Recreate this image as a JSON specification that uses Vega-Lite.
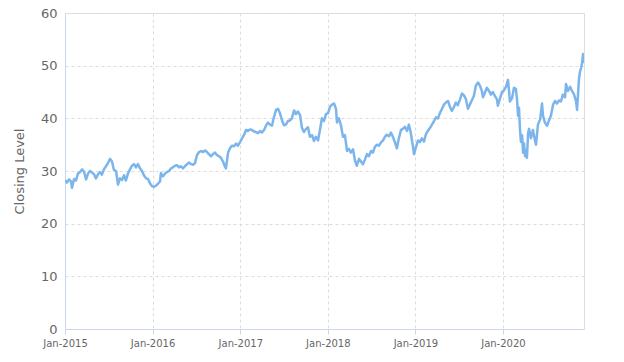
{
  "$schema": "https://vega.github.io/schema/vega-lite/v6.json",
  "width": 519,
  "height": 316,
  "autosize": {"type": "none"},
  "padding": {"left": 65, "top": 13, "right": 40, "bottom": 33},
  "background": "white",
  "config": {
    "view": {"stroke": "#d8dde6", "strokeWidth": 1},
    "font": "DejaVu Sans"
  },
  "data": {
    "values": [
      {"date": "2015-01-01", "close": 28.3}, {"date": "2015-01-09", "close": 27.8}, {"date": "2015-01-18", "close": 28.4}, {"date": "2015-01-26", "close": 28.0}, {"date": "2015-01-30", "close": 26.8},
      {"date": "2015-02-08", "close": 28.5}, {"date": "2015-02-16", "close": 28.2}, {"date": "2015-02-24", "close": 29.5}, {"date": "2015-03-05", "close": 29.8}, {"date": "2015-03-13", "close": 30.3},
      {"date": "2015-03-21", "close": 29.9}, {"date": "2015-03-30", "close": 28.4}, {"date": "2015-04-07", "close": 29.5}, {"date": "2015-04-15", "close": 30.0}, {"date": "2015-04-24", "close": 29.7},
      {"date": "2015-05-02", "close": 29.4}, {"date": "2015-05-10", "close": 28.6}, {"date": "2015-05-19", "close": 29.4}, {"date": "2015-05-27", "close": 29.8}, {"date": "2015-06-04", "close": 29.3},
      {"date": "2015-06-13", "close": 30.4}, {"date": "2015-06-21", "close": 30.9}, {"date": "2015-06-29", "close": 31.5}, {"date": "2015-07-08", "close": 32.3}, {"date": "2015-07-16", "close": 31.8},
      {"date": "2015-07-24", "close": 30.2}, {"date": "2015-08-02", "close": 30.0}, {"date": "2015-08-10", "close": 27.4}, {"date": "2015-08-18", "close": 28.6}, {"date": "2015-08-27", "close": 28.3},
      {"date": "2015-09-04", "close": 29.2}, {"date": "2015-09-12", "close": 28.2}, {"date": "2015-09-21", "close": 29.6}, {"date": "2015-09-29", "close": 30.3}, {"date": "2015-10-07", "close": 31.0},
      {"date": "2015-10-16", "close": 31.3}, {"date": "2015-10-24", "close": 30.7}, {"date": "2015-11-01", "close": 31.3}, {"date": "2015-11-10", "close": 30.5}, {"date": "2015-11-18", "close": 30.0},
      {"date": "2015-11-26", "close": 29.2}, {"date": "2015-12-05", "close": 28.6}, {"date": "2015-12-13", "close": 28.5}, {"date": "2015-12-21", "close": 27.7}, {"date": "2015-12-30", "close": 27.1},
      {"date": "2016-01-07", "close": 27.0}, {"date": "2016-01-15", "close": 27.2}, {"date": "2016-01-24", "close": 27.6}, {"date": "2016-02-01", "close": 28.0}, {"date": "2016-02-05", "close": 29.6},
      {"date": "2016-02-14", "close": 29.0}, {"date": "2016-02-22", "close": 29.5}, {"date": "2016-03-01", "close": 29.8}, {"date": "2016-03-10", "close": 30.0}, {"date": "2016-03-18", "close": 30.5},
      {"date": "2016-03-26", "close": 30.7}, {"date": "2016-04-04", "close": 31.0}, {"date": "2016-04-12", "close": 31.1}, {"date": "2016-04-20", "close": 30.7}, {"date": "2016-04-29", "close": 30.9},
      {"date": "2016-05-07", "close": 30.5}, {"date": "2016-05-15", "close": 30.9}, {"date": "2016-05-24", "close": 31.3}, {"date": "2016-06-01", "close": 31.6}, {"date": "2016-06-09", "close": 31.3},
      {"date": "2016-06-18", "close": 31.2}, {"date": "2016-06-26", "close": 31.5}, {"date": "2016-07-04", "close": 33.0}, {"date": "2016-07-13", "close": 33.6}, {"date": "2016-07-21", "close": 33.8},
      {"date": "2016-07-29", "close": 33.6}, {"date": "2016-08-07", "close": 33.9}, {"date": "2016-08-15", "close": 33.6}, {"date": "2016-08-23", "close": 33.2}, {"date": "2016-09-01", "close": 32.8},
      {"date": "2016-09-09", "close": 33.2}, {"date": "2016-09-17", "close": 33.5}, {"date": "2016-09-26", "close": 33.0}, {"date": "2016-10-04", "close": 32.8}, {"date": "2016-10-12", "close": 32.5},
      {"date": "2016-10-21", "close": 31.8}, {"date": "2016-10-29", "close": 30.8}, {"date": "2016-11-02", "close": 30.5}, {"date": "2016-11-11", "close": 33.5}, {"date": "2016-11-19", "close": 34.3},
      {"date": "2016-11-27", "close": 34.8}, {"date": "2016-12-06", "close": 34.7}, {"date": "2016-12-14", "close": 35.2}, {"date": "2016-12-22", "close": 34.8}, {"date": "2016-12-31", "close": 35.5},
      {"date": "2017-01-08", "close": 36.2}, {"date": "2017-01-16", "close": 36.8}, {"date": "2017-01-25", "close": 37.8}, {"date": "2017-02-02", "close": 37.6}, {"date": "2017-02-10", "close": 37.9},
      {"date": "2017-02-19", "close": 37.8}, {"date": "2017-02-27", "close": 37.5}, {"date": "2017-03-07", "close": 37.4}, {"date": "2017-03-16", "close": 37.2}, {"date": "2017-03-24", "close": 37.6},
      {"date": "2017-04-01", "close": 37.3}, {"date": "2017-04-10", "close": 37.8}, {"date": "2017-04-18", "close": 38.6}, {"date": "2017-04-26", "close": 39.2}, {"date": "2017-05-05", "close": 38.8},
      {"date": "2017-05-13", "close": 38.6}, {"date": "2017-05-21", "close": 40.2}, {"date": "2017-05-30", "close": 41.6}, {"date": "2017-06-07", "close": 41.8}, {"date": "2017-06-15", "close": 41.0},
      {"date": "2017-06-24", "close": 39.6}, {"date": "2017-07-02", "close": 38.7}, {"date": "2017-07-10", "close": 38.8}, {"date": "2017-07-19", "close": 39.5}, {"date": "2017-07-27", "close": 39.6},
      {"date": "2017-08-04", "close": 40.0}, {"date": "2017-08-13", "close": 41.5}, {"date": "2017-08-21", "close": 40.8}, {"date": "2017-08-29", "close": 41.3}, {"date": "2017-09-07", "close": 40.6},
      {"date": "2017-09-15", "close": 38.2}, {"date": "2017-09-23", "close": 37.4}, {"date": "2017-10-02", "close": 38.0}, {"date": "2017-10-10", "close": 38.3}, {"date": "2017-10-18", "close": 36.5},
      {"date": "2017-10-27", "close": 36.8}, {"date": "2017-11-04", "close": 35.7}, {"date": "2017-11-12", "close": 36.5}, {"date": "2017-11-21", "close": 35.8}, {"date": "2017-11-29", "close": 37.8},
      {"date": "2017-12-07", "close": 40.0}, {"date": "2017-12-16", "close": 39.5}, {"date": "2017-12-24", "close": 40.8}, {"date": "2018-01-02", "close": 41.0}, {"date": "2018-01-10", "close": 42.2},
      {"date": "2018-01-18", "close": 42.6}, {"date": "2018-01-27", "close": 42.8}, {"date": "2018-02-04", "close": 41.8}, {"date": "2018-02-08", "close": 39.2}, {"date": "2018-02-16", "close": 40.0},
      {"date": "2018-02-25", "close": 38.6}, {"date": "2018-03-05", "close": 36.5}, {"date": "2018-03-13", "close": 36.8}, {"date": "2018-03-22", "close": 33.8}, {"date": "2018-03-30", "close": 34.2},
      {"date": "2018-04-07", "close": 33.5}, {"date": "2018-04-16", "close": 34.1}, {"date": "2018-04-24", "close": 32.0}, {"date": "2018-05-02", "close": 31.0}, {"date": "2018-05-11", "close": 32.3},
      {"date": "2018-05-19", "close": 31.8}, {"date": "2018-05-27", "close": 31.3}, {"date": "2018-06-05", "close": 32.2}, {"date": "2018-06-13", "close": 33.2}, {"date": "2018-06-21", "close": 32.8},
      {"date": "2018-06-30", "close": 33.8}, {"date": "2018-07-08", "close": 33.5}, {"date": "2018-07-16", "close": 34.6}, {"date": "2018-07-25", "close": 35.0}, {"date": "2018-08-02", "close": 34.8},
      {"date": "2018-08-10", "close": 35.4}, {"date": "2018-08-19", "close": 35.8}, {"date": "2018-08-27", "close": 36.5}, {"date": "2018-09-04", "close": 36.9}, {"date": "2018-09-13", "close": 36.6},
      {"date": "2018-09-21", "close": 37.3}, {"date": "2018-09-29", "close": 36.5}, {"date": "2018-10-08", "close": 35.4}, {"date": "2018-10-16", "close": 34.3}, {"date": "2018-10-24", "close": 36.2},
      {"date": "2018-11-02", "close": 37.8}, {"date": "2018-11-10", "close": 38.0}, {"date": "2018-11-18", "close": 38.4}, {"date": "2018-11-27", "close": 37.6}, {"date": "2018-12-05", "close": 38.8},
      {"date": "2018-12-13", "close": 37.2}, {"date": "2018-12-22", "close": 34.6}, {"date": "2018-12-26", "close": 33.2}, {"date": "2019-01-03", "close": 34.5}, {"date": "2019-01-12", "close": 35.8},
      {"date": "2019-01-20", "close": 35.5}, {"date": "2019-01-28", "close": 36.2}, {"date": "2019-02-06", "close": 35.6}, {"date": "2019-02-14", "close": 37.0}, {"date": "2019-02-22", "close": 37.6},
      {"date": "2019-03-03", "close": 38.2}, {"date": "2019-03-11", "close": 38.8}, {"date": "2019-03-19", "close": 39.4}, {"date": "2019-03-28", "close": 40.2}, {"date": "2019-04-05", "close": 40.0},
      {"date": "2019-04-13", "close": 41.0}, {"date": "2019-04-22", "close": 41.8}, {"date": "2019-04-30", "close": 42.6}, {"date": "2019-05-08", "close": 43.0}, {"date": "2019-05-17", "close": 43.3},
      {"date": "2019-05-25", "close": 42.2}, {"date": "2019-06-02", "close": 41.4}, {"date": "2019-06-11", "close": 42.2}, {"date": "2019-06-19", "close": 43.0}, {"date": "2019-06-27", "close": 42.5},
      {"date": "2019-07-06", "close": 43.6}, {"date": "2019-07-14", "close": 44.7}, {"date": "2019-07-22", "close": 44.4}, {"date": "2019-07-31", "close": 43.6}, {"date": "2019-08-08", "close": 41.8},
      {"date": "2019-08-16", "close": 42.6}, {"date": "2019-08-25", "close": 43.5}, {"date": "2019-09-02", "close": 44.3}, {"date": "2019-09-10", "close": 46.2}, {"date": "2019-09-19", "close": 46.8},
      {"date": "2019-09-27", "close": 46.2}, {"date": "2019-10-05", "close": 45.2}, {"date": "2019-10-10", "close": 44.0}, {"date": "2019-10-18", "close": 44.9}, {"date": "2019-10-26", "close": 45.8},
      {"date": "2019-11-04", "close": 45.2}, {"date": "2019-11-12", "close": 44.5}, {"date": "2019-11-20", "close": 45.0}, {"date": "2019-11-29", "close": 44.2}, {"date": "2019-12-07", "close": 43.6},
      {"date": "2019-12-11", "close": 42.4}, {"date": "2019-12-20", "close": 43.8}, {"date": "2019-12-28", "close": 45.0}, {"date": "2020-01-05", "close": 45.3}, {"date": "2020-01-14", "close": 46.0},
      {"date": "2020-01-22", "close": 47.3}, {"date": "2020-01-26", "close": 45.5}, {"date": "2020-01-30", "close": 43.2}, {"date": "2020-02-08", "close": 43.8}, {"date": "2020-02-16", "close": 45.8},
      {"date": "2020-02-24", "close": 45.6}, {"date": "2020-02-29", "close": 43.5}, {"date": "2020-03-04", "close": 40.5}, {"date": "2020-03-08", "close": 42.0}, {"date": "2020-03-12", "close": 38.0},
      {"date": "2020-03-16", "close": 35.5}, {"date": "2020-03-21", "close": 36.8}, {"date": "2020-03-25", "close": 33.5}, {"date": "2020-03-29", "close": 35.2}, {"date": "2020-04-02", "close": 32.8},
      {"date": "2020-04-06", "close": 34.0}, {"date": "2020-04-10", "close": 32.5}, {"date": "2020-04-15", "close": 37.2}, {"date": "2020-04-19", "close": 38.0}, {"date": "2020-04-27", "close": 36.2},
      {"date": "2020-05-05", "close": 37.8}, {"date": "2020-05-14", "close": 35.8}, {"date": "2020-05-18", "close": 35.0}, {"date": "2020-05-26", "close": 38.8}, {"date": "2020-06-04", "close": 39.8},
      {"date": "2020-06-12", "close": 42.8}, {"date": "2020-06-16", "close": 40.5}, {"date": "2020-06-24", "close": 39.2}, {"date": "2020-07-03", "close": 38.6}, {"date": "2020-07-11", "close": 39.6},
      {"date": "2020-07-19", "close": 40.5}, {"date": "2020-07-28", "close": 42.6}, {"date": "2020-08-05", "close": 43.3}, {"date": "2020-08-13", "close": 42.8}, {"date": "2020-08-22", "close": 43.4},
      {"date": "2020-08-30", "close": 43.2}, {"date": "2020-09-07", "close": 44.5}, {"date": "2020-09-16", "close": 44.0}, {"date": "2020-09-20", "close": 46.5}, {"date": "2020-09-28", "close": 45.2},
      {"date": "2020-10-07", "close": 46.0}, {"date": "2020-10-15", "close": 45.2}, {"date": "2020-10-23", "close": 44.6}, {"date": "2020-11-01", "close": 43.2}, {"date": "2020-11-05", "close": 41.6},
      {"date": "2020-11-09", "close": 44.5}, {"date": "2020-11-13", "close": 47.5}, {"date": "2020-11-17", "close": 48.8}, {"date": "2020-11-22", "close": 49.6}, {"date": "2020-11-26", "close": 50.5},
      {"date": "2020-11-30", "close": 52.2}, {"date": "2020-12-04", "close": 50.5}
    ]
  },
  "mark": {"type": "line", "color": "#7cb5ec", "strokeWidth": 2.5, "strokeJoin": "round", "clip": true},
  "encoding": {
    "x": {
      "field": "date",
      "type": "temporal",
      "scale": {
        "type": "utc",
        "domain": [
          {"year": 2015, "month": 1, "date": 1, "utc": true},
          {"year": 2020, "month": 12, "date": 4, "utc": true}
        ],
        "nice": false
      },
      "axis": {
        "title": null,
        "format": "%b-%Y",
        "tickCount": "year",
        "labelColor": "#666666",
        "labelFontSize": 10,
        "labelPadding": 4,
        "domainColor": "#ccd6eb",
        "tickColor": "#ccd6eb",
        "tickSize": 5,
        "grid": true,
        "gridColor": "#dcdcdc",
        "gridDash": [3, 3],
        "labelFlush": false
      }
    },
    "y": {
      "field": "close",
      "type": "quantitative",
      "scale": {"domain": [0, 60], "nice": false},
      "axis": {
        "title": "Closing Level",
        "titleColor": "#666666",
        "titleFontSize": 13,
        "titleFontWeight": "normal",
        "titlePadding": 14,
        "values": [0, 10, 20, 30, 40, 50, 60],
        "labelColor": "#666666",
        "labelFontSize": 13,
        "labelPadding": 8,
        "ticks": false,
        "domainColor": "#ccd6eb",
        "grid": true,
        "gridColor": "#dcdcdc",
        "gridDash": [3, 3]
      }
    }
  }
}
